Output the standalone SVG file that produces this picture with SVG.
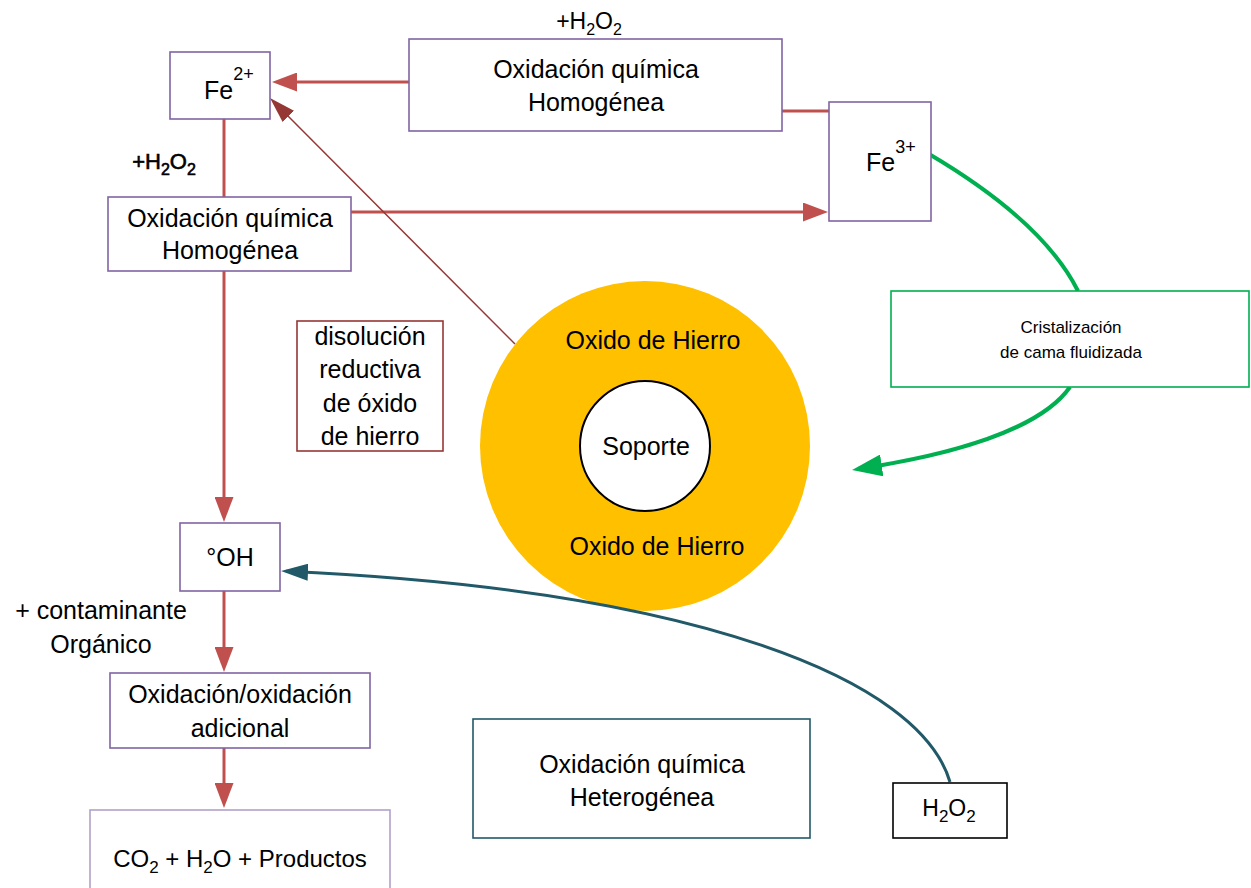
<svg xmlns="http://www.w3.org/2000/svg" width="1251" height="888" viewBox="0 0 1251 888">
<style>
.t{font-family:"Liberation Sans",Arial,sans-serif;font-size:25px;fill:#000;text-anchor:middle}
.s{font-family:"Liberation Sans",Arial,sans-serif;font-size:18px;fill:#000;text-anchor:middle}
.bx{fill:#fff;stroke:#8064a2;stroke-width:1.6}
.red{fill:none;stroke:#c0504d;stroke-width:3}
</style>
<defs>
<marker id="arrRed" markerUnits="userSpaceOnUse" markerWidth="25" markerHeight="19" refX="20" refY="9.5" orient="auto"><path d="M0,0 L25,9.5 L0,19 z" fill="#c0504d"/></marker>
<marker id="arrDark" markerUnits="userSpaceOnUse" markerWidth="26" markerHeight="16" refX="22" refY="8" orient="auto"><path d="M0,0 L26,8 L0,16 z" fill="#953735"/></marker>
<marker id="arrTeal" markerUnits="userSpaceOnUse" markerWidth="27" markerHeight="17" refX="22" refY="8.5" orient="auto"><path d="M0,0 L27,8.5 L0,17 z" fill="#215968"/></marker>
<marker id="arrGreen" markerUnits="userSpaceOnUse" markerWidth="30" markerHeight="22" refX="24" refY="11" orient="auto"><path d="M0,0 L30,11 L0,22 z" fill="#00b050"/></marker>
</defs>
<rect width="1251" height="888" fill="#fff"/>

<g id="particle">
<circle cx="645" cy="446" r="165" fill="#ffc000"/>
<circle cx="645" cy="446" r="65" fill="#fff" stroke="#000" stroke-width="2"/>
<text class="t" x="653" y="349">Oxido de Hierro</text>
<text class="t" x="646" y="455">Soporte</text>
<text class="t" x="657" y="555">Oxido de Hierro</text>
</g>

<g id="connectors">
<line class="red" x1="409" y1="82" x2="277" y2="82" marker-end="url(#arrRed)"/>
<line class="red" x1="782" y1="111" x2="829" y2="111"/>
<line class="red" x1="224" y1="119" x2="224" y2="197"/>
<line class="red" x1="351" y1="212" x2="823" y2="212" marker-end="url(#arrRed)"/>
<line class="red" x1="224" y1="271" x2="224" y2="517" marker-end="url(#arrRed)"/>
<line class="red" x1="224" y1="591" x2="224" y2="667" marker-end="url(#arrRed)"/>
<line class="red" x1="224" y1="748" x2="224" y2="803" marker-end="url(#arrRed)"/>
<line x1="515" y1="344" x2="272.8" y2="100.8" stroke="#953735" stroke-width="1.5" marker-end="url(#arrDark)"/>
<path d="M950,782 C920,680 700,590 286,571.2" fill="none" stroke="#215968" stroke-width="3" marker-end="url(#arrTeal)"/>
<path d="M929,154 C990,190 1050,235 1078,291" fill="none" stroke="#00b050" stroke-width="4"/>
<path d="M1070,387 C1040,430 950,455 858,469" fill="none" stroke="#00b050" stroke-width="4" marker-end="url(#arrGreen)"/>
</g>

<g id="fe2">
<rect class="bx" x="170" y="52" width="100" height="67"/>
<text class="t" x="204" y="99" style="text-anchor:start">Fe<tspan dy="-19" font-size="18">2+</tspan></text>
</g>

<g id="h2o2-top">
<text class="t" x="589" y="29" style="font-size:23px">+H<tspan dy="6" font-size="16">2</tspan><tspan dy="-6">O</tspan><tspan dy="6" font-size="16">2</tspan></text>
</g>

<g id="oxid-top">
<rect class="bx" x="409" y="39" width="373" height="92"/>
<text class="t" x="596" y="78">Oxidación química</text>
<text class="t" x="596" y="111">Homogénea</text>
</g>

<g id="fe3">
<rect class="bx" x="829" y="102" width="102" height="119"/>
<text class="t" x="866" y="171" style="text-anchor:start">Fe<tspan dy="-18" font-size="18">3+</tspan></text>
</g>

<g id="h2o2-left">
<text class="t" x="164" y="169" style="font-size:22px;stroke:#000;stroke-width:0.6">+H<tspan dy="6" font-size="16">2</tspan><tspan dy="-6">O</tspan><tspan dy="6" font-size="16">2</tspan></text>
</g>

<g id="oxid-left">
<rect class="bx" x="108" y="197" width="243" height="74"/>
<text class="t" x="230" y="227">Oxidación química</text>
<text class="t" x="230" y="259">Homogénea</text>
</g>

<g id="disolucion">
<rect x="297" y="321" width="146" height="130" fill="#fff" stroke="#953735" stroke-width="1.6"/>
<text class="t" x="370" y="345">disolución</text>
<text class="t" x="370" y="378">reductiva</text>
<text class="t" x="370" y="412">de óxido</text>
<text class="t" x="370" y="445">de hierro</text>
</g>

<g id="cristalizacion">
<rect x="891" y="291" width="358" height="96" fill="#fff" stroke="#00b050" stroke-width="1.6"/>
<text class="s" x="1071" y="333" style="font-size:17px">Cristalización</text>
<text class="s" x="1071" y="358" style="font-size:17px">de cama fluidizada</text>
</g>

<g id="oh">
<rect class="bx" x="180" y="523" width="100" height="68"/>
<text class="t" x="230" y="566">°OH</text>
</g>

<g id="contaminante">
<text class="t" x="101" y="619">+ contaminante</text>
<text class="t" x="101" y="653">Orgánico</text>
</g>

<g id="oxid-adicional">
<rect class="bx" x="110" y="673" width="260" height="75"/>
<text class="t" x="240" y="703">Oxidación/oxidación</text>
<text class="t" x="240" y="737">adicional</text>
</g>

<g id="productos">
<rect x="90" y="810" width="300" height="90" fill="#fff" stroke="#b2a1c7" stroke-width="1.6"/>
<text class="t" x="240" y="867" style="font-size:24px">CO<tspan dy="6" font-size="17">2</tspan><tspan dy="-6"> + H</tspan><tspan dy="6" font-size="17">2</tspan><tspan dy="-6">O + Productos</tspan></text>
</g>

<g id="heterogenea">
<rect x="473" y="719" width="337" height="119" fill="#fff" stroke="#215968" stroke-width="1.6"/>
<text class="t" x="642" y="773">Oxidación química</text>
<text class="t" x="642" y="806">Heterogénea</text>
</g>

<g id="h2o2-box">
<rect x="893" y="783" width="114" height="55" fill="#fff" stroke="#000" stroke-width="1.6"/>
<text class="t" x="949" y="816" style="font-size:23px">H<tspan dy="6" font-size="17">2</tspan><tspan dy="-6">O</tspan><tspan dy="6" font-size="17">2</tspan></text>
</g>
</svg>
